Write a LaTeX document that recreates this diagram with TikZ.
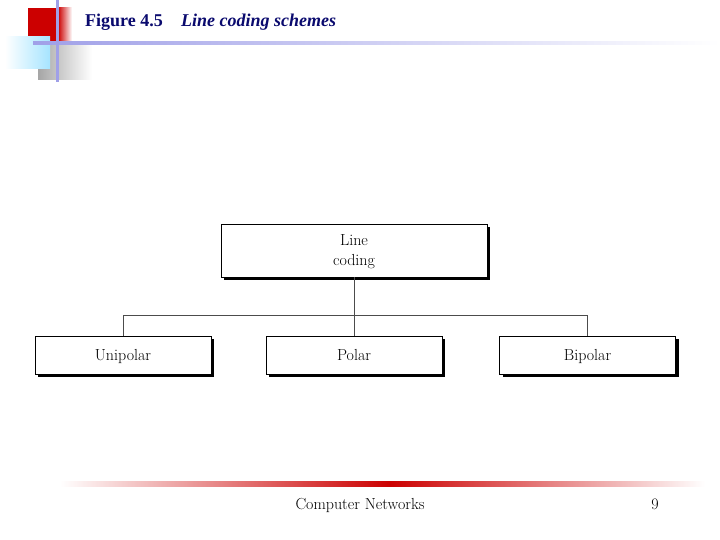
\documentclass[tikz,border=0pt]{standalone}
\usepackage{fontspec}
\setmainfont{Liberation Serif}
\newfontfamily\boxfont{Latin Modern Roman}
\usetikzlibrary{shadows}
\definecolor{navy}{HTML}{0A0A6E}
\definecolor{lavender}{HTML}{A0A0E8}
\definecolor{slidered}{HTML}{CC0000}
\tikzset{
  codebox/.style={draw=black, line width=.6pt, fill=white, minimum height=38pt,
    minimum width=176pt, font=\boxfont\fontsize{16}{20}\selectfont, align=center,
    text depth=0pt,
    drop shadow={shadow xshift=3pt, shadow yshift=-3pt, fill=black, opacity=1}},
  branch/.style={draw=black!70, line width=1pt}
}
\begin{document}
\begin{tikzpicture}[x=1pt, y=-1pt]
\useasboundingbox[fill=white](0,0) rectangle (720,540);
% corner decoration
\shade[left color=black!35, right color=white](38,45) rectangle (92,80);
\fill[slidered](28,8) rectangle (58,43);
\shade[left color=slidered, right color=white](58,8) rectangle (72,43);
\shade[left color=white, right color=blue!30!cyan!35](5,37) rectangle (50,69);
\shade[left color=lavender, right color=white, draw=none](33,42) rectangle (720,44.5);
\fill[lavender](56,0) rectangle (58.5,82);
% title
\node[anchor=base west, inner sep=0, text=navy, font=\bfseries\fontsize{18}{20}\selectfont] (fig) at (85,27) {Figure 4.5};
\node[anchor=base west, inner sep=0, text=navy, font=\bfseries\itshape\fontsize{18}{20}\selectfont] (title) at (181,27) {Line coding schemes};
% tree
\node[codebox, minimum width=266pt, minimum height=53pt] (line) at (354,250.5) {Line\\coding};
\node[codebox] (uni) at (123,355) {Unipolar};
\node[codebox] (polar) at (354,355) {Polar};
\node[codebox] (bip) at (587.5,355) {Bipolar};
\coordinate (fork) at (354,315.5);
\draw[branch] (line.south) -- (fork);
\draw[branch] (uni.north) |- (fork) -| (bip.north);
\draw[branch] (polar.north) -- (fork);
% footer
\shade[left color=white, right color=slidered](60,481) rectangle (390,486);
\shade[left color=slidered, right color=white](390,481) rectangle (705,486);
\node[font=\boxfont\fontsize{16}{18}\selectfont, anchor=base] (course) at (360,509) {Computer Networks};
\node[font=\boxfont\fontsize{16}{18}\selectfont, anchor=base] (page) at (655,509) {9};
\end{tikzpicture}
\end{document}
